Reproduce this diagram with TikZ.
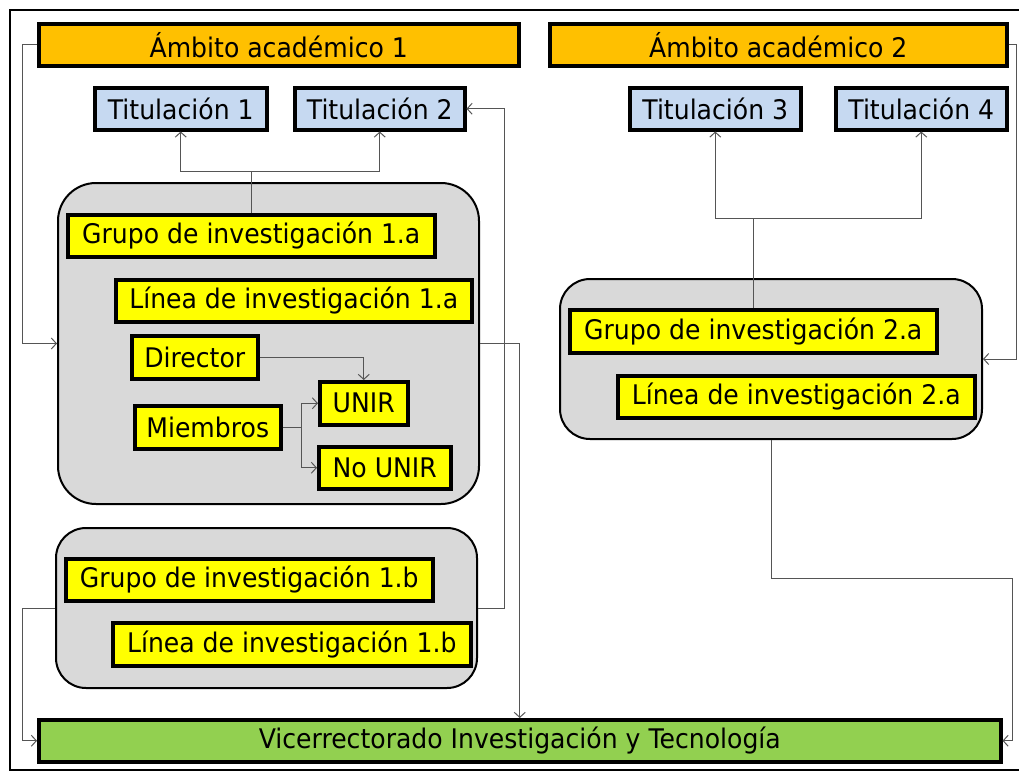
\documentclass[tikz,border=0pt]{standalone}
\usepackage{fontspec}
\setmainfont{DejaVu Sans}[FakeStretch=0.93]
\usetikzlibrary{arrows.meta,calc}
\definecolor{ambito}{HTML}{FFC000}
\definecolor{titul}{HTML}{C6D9F1}
\definecolor{amar}{HTML}{FFFF00}
\definecolor{verde}{HTML}{92D050}
\definecolor{grupofill}{HTML}{D9D9D9}
\definecolor{conn}{HTML}{555555}
\begin{document}
\begin{tikzpicture}[x=1pt,y=-1pt,
  txt/.style={font=\fontsize{27}{30}\selectfont},
  boxb/.style={draw=black, line width=3.5pt, inner sep=0pt, anchor=north west, txt},
  ambbox/.style={boxb, fill=ambito},
  titbox/.style={boxb, fill=titul},
  ybox/.style={boxb, fill=amar},
  gbox/.style={boxb, fill=verde},
  round/.style={draw=black, line width=2pt, fill=grupofill, inner sep=0pt, anchor=north west},
  cn/.style={draw=conn, line width=1pt},
  arr/.style={cn, -{Straight Barb[length=5pt,width=11pt]}}
]
\useasboundingbox (0,0) rectangle (1019,771);
\fill[white] (0,0) rectangle (1019,771);
% outer frame
\draw[line width=2pt] (1030,10) -- (10,10) -- (10,770) -- (1030,770);

% rounded group boxes
\node[round, rounded corners=38pt, minimum width=421pt, minimum height=321pt] (rb1) at (57,182) {};
\node[round, rounded corners=30pt, minimum width=421pt, minimum height=160pt] (rb2) at (55,527) {};
\node[round, rounded corners=30pt, minimum width=422pt, minimum height=160pt] (rb3) at (559,278) {};

% top boxes
\node[ambbox, minimum width=480pt, minimum height=42pt] (amb1) at (37,22) {Ámbito académico 1};
\node[ambbox, minimum width=457pt, minimum height=42pt] (amb2) at (548,22) {Ámbito académico 2};
\node[titbox, minimum width=172pt, minimum height=42pt] (tit1) at (93,86) {Titulación 1};
\node[titbox, minimum width=170pt, minimum height=42pt] (tit2) at (293,86) {Titulación 2};
\node[titbox, minimum width=171pt, minimum height=42pt] (tit3) at (628,86) {Titulación 3};
\node[titbox, minimum width=171pt, minimum height=42pt] (tit4) at (834,86) {Titulación 4};

% group 1.a contents
\node[ybox, minimum width=367pt, minimum height=42pt] (g1a) at (66,213) {Grupo de investigación 1.a};
\node[ybox, minimum width=356pt, minimum height=42pt] (l1a) at (114,278) {Línea de investigación 1.a};
\node[ybox, minimum width=126pt, minimum height=43pt] (dir) at (130,334) {Director};
\node[ybox, minimum width=88pt, minimum height=43pt] (unir) at (318,380) {UNIR};
\node[ybox, minimum width=146pt, minimum height=43pt] (miem) at (133,404) {Miembros};
\node[ybox, minimum width=132pt, minimum height=42pt] (nounir) at (317,445) {No UNIR};

% group 1.b contents
\node[ybox, minimum width=367pt, minimum height=42pt] (g1b) at (64,557) {Grupo de investigación 1.b};
\node[ybox, minimum width=358pt, minimum height=43pt] (l1b) at (111,621) {Línea de investigación 1.b};

% group 2.a contents
\node[ybox, minimum width=367pt, minimum height=43pt] (g2a) at (568,308) {Grupo de investigación 2.a};
\node[ybox, minimum width=357pt, minimum height=42pt] (l2a) at (616,374) {Línea de investigación 2.a};

% bottom box
\node[gbox, minimum width=962pt, minimum height=42pt] (vic) at (37,718) {Vicerrectorado Investigación y Tecnología};

% junction coordinates
\coordinate (j1) at ($(g1a.north)+(0,-42)$);
\coordinate (j2) at ($(g2a.north)+(0,-90)$);
\coordinate (la) at ($(amb1.west)+(-15,0)$);
\coordinate (lb) at ($(rb2.west)+(-33,0)$);
\coordinate (rx) at ($(rb2.east)+(26,0)$);
\coordinate (ra) at ($(amb2.east)+(8,0)$);
\coordinate (rd) at (1012,578);
\coordinate (mj) at ($(miem.east)+(19,0)$);

% connectors
\draw[cn] (g1a.north) -- (j1);
\draw[arr] (j1) -| (tit1.south);
\draw[arr] (j1) -| (tit2.south);
\draw[cn] (g2a.north) -- (j2);
\draw[arr] (j2) -| (tit3.south);
\draw[arr] (j2) -| (tit4.south);
\draw[arr] (amb1.west) -- (la) |- (rb1.west);
\draw[arr] (rb1.east) -| (vic.north);
\draw[arr] (rb2.east) -- (rx) |- (tit2.east);
\draw[arr] (rb2.west) -- (lb) |- (vic.west);
\draw[arr] (dir.east) -| (unir.north);
\draw[cn] (miem.east) -- (mj);
\draw[arr] (mj) |- (unir.west);
\draw[arr] (mj) |- (nounir.west);
\draw[arr] (amb2.east) -- (ra) |- (rb3.east);
\draw[cn] (rb3.south) |- (rd);
\draw[arr] (rd) |- (vic.east);
\end{tikzpicture}
\end{document}
